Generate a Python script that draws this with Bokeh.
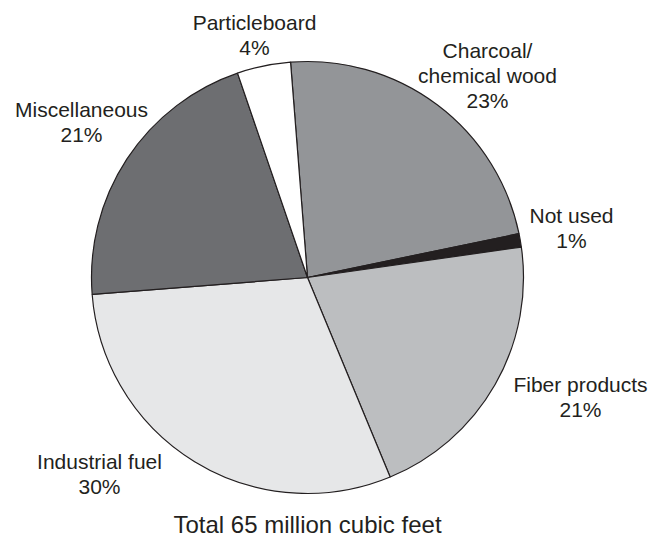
import math
from bokeh.plotting import figure
from bokeh.models import Range1d, ColumnDataSource
from bokeh.core.properties import value
from bokeh.embed import file_html
from bokeh.resources import INLINE

# ---- data ----
categories = ["Charcoal/\nchemical wood", "Not used", "Fiber products",
              "Industrial fuel", "Miscellaneous", "Particleboard"]
percent = [23, 1, 21, 30, 21, 4]
colors = ["#939598", "#231f20", "#bcbec0", "#e6e7e8", "#6d6e71", "#ffffff"]
caption = "Total 65 million cubic feet"

# ---- layout (picture pixel coordinates; y is negated) ----
W, H = 665, 537
cx, cy, R = 307, -277, 216
start_deg = 94.5
# label anchor (centre x, first-line y) per category
label_pos = [(487, 50), (571, 215), (580, 384), (99, 461), (81, 109), (254, 22)]
caption_pos = (307, 524)
line_gap = 25
FONT = "Liberation Sans"
FSIZE = "21px"
CAP_SIZE = "24px"
TXT = "#231f20"

p = figure(width=W, height=H, output_backend="svg", toolbar_location=None,
           x_range=Range1d(0, W), y_range=Range1d(-H, 0),
           min_border=0, outline_line_color=None)
p.axis.visible = False
p.grid.visible = False
p.background_fill_color = "white"
p.border_fill_color = "white"

starts, ends = [], []
a = math.radians(start_deg)
for v in percent:
    starts.append(a)
    a -= math.radians(v * 3.6)
    ends.append(a)

src = ColumnDataSource(dict(start=starts, end=ends, color=colors))
p.wedge(x=cx, y=cy, radius=R, start_angle="start", end_angle="end",
        direction="clock", fill_color="color", line_color="#231f20",
        line_width=1.2, source=src)

tx, ty, tt = [], [], []
for cat, v, (lx, ly) in zip(categories, percent, label_pos):
    lines = cat.split("\n") + [f"{v}%"]
    for i, ln in enumerate(lines):
        tx.append(lx)
        ty.append(-(ly + i * line_gap))
        tt.append(ln)

p.text(x=tx, y=ty, text=tt, text_align="center", text_baseline="alphabetic",
       text_font=value(FONT), text_font_size=FSIZE, text_color=TXT)
p.text(x=[caption_pos[0]], y=[-caption_pos[1]], text=[caption],
       text_align="center", text_baseline="alphabetic",
       text_font=value(FONT), text_font_size=CAP_SIZE, text_color=TXT)

open("out.html", "w").write(file_html(p, INLINE))
